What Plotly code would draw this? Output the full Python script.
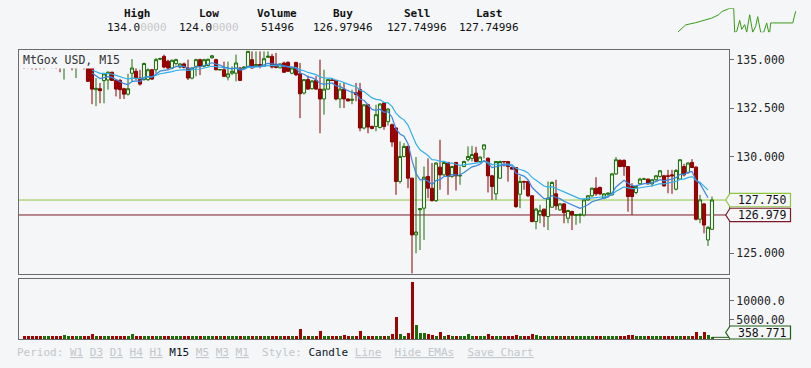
import plotly.graph_objects as go

W, H = 811, 368

# ---------------- data ----------------
opens = [134.66,134.66,134.65,134.66,134.66,134.60,134.65,134.66,134.66,134.66,
         134.60,134.65,134.66,134.58,134.64,134.66,134.66,134.66,133.45,133.50,
         133.92,133.95,134.35,133.93,133.93,133.50,133.22,134.30,134.40,134.05,
         133.97,133.97,134.48,134.48,135.02,135.17,134.92,134.57,134.80,134.62,
         134.78,134.57,134.05,134.66,135.00,134.66,134.70,135.10,135.00,134.47,
         134.48,134.10,134.30,134.30,134.57,134.55,134.62,135.00,134.70,134.75,
         134.66,135.12,135.17,134.75,134.58,134.83,134.86,134.30,134.86,134.27,
         133.28,133.97,133.50,133.93,133.48,132.97,133.48,133.95,133.93,132.97,
         133.48,132.97,132.90,133.30,133.45,131.47,132.67,131.55,131.55,131.50,
         132.76,131.80,131.64,131.47,128.71,130.00,130.52,128.88,125.95,127.25,
         127.33,128.97,128.36,127.72,129.45,129.05,129.69,128.97,129.69,128.99,
         129.48,129.83,129.90,130.17,129.74,130.38,129.91,129.00,128.07,128.88,
         129.74,129.74,129.43,129.43,128.05,128.71,128.71,127.97,126.64,127.00,
         127.28,126.90,127.38,128.07,127.24,127.55,126.81,127.16,126.95,126.97,
         126.98,127.76,127.97,128.36,128.40,127.85,128.05,128.02,129.10,129.80,
         129.80,129.48,128.45,128.14,128.59,128.82,128.83,128.59,128.80,128.97,
         129.00,129.00,129.05,128.31,128.83,129.48,129.17,129.69,129.45,126.76,
         127.55,125.69,126.24]
highs = [134.67,134.67,134.66,134.67,134.67,134.66,134.66,134.67,134.67,134.67,
         134.67,134.66,134.67,134.67,134.66,134.67,134.68,134.68,134.05,133.80,
         134.30,134.40,134.38,133.98,134.00,133.55,134.27,135.03,134.55,134.48,
         134.85,134.55,134.52,135.09,135.10,135.26,135.00,135.00,135.05,134.82,
         134.85,135.00,134.60,135.05,135.05,135.05,135.05,135.25,135.05,134.50,
         134.90,134.90,134.65,135.26,134.60,134.65,135.45,135.43,135.43,135.43,
         135.43,135.43,135.30,135.35,134.80,134.90,134.92,134.62,134.88,134.83,
         134.00,134.18,133.95,134.15,135.00,134.48,134.00,134.00,133.95,133.80,
         133.80,133.00,133.45,133.80,133.80,132.70,132.72,131.60,132.67,132.75,
         132.80,132.50,131.70,131.50,130.78,130.69,130.55,128.90,129.97,127.33,
         129.48,129.90,129.66,129.70,130.86,129.75,129.72,129.52,129.72,129.48,
         129.78,130.52,130.55,130.50,130.00,130.62,129.95,129.05,129.75,129.78,
         129.76,129.76,129.45,129.45,128.97,128.75,128.75,128.00,127.35,127.50,
         127.30,128.71,128.71,128.80,127.60,127.60,127.25,127.20,127.00,127.07,
         127.80,128.00,128.40,128.93,128.45,128.10,128.15,129.15,129.97,129.85,
         129.85,129.50,128.62,128.50,128.90,128.90,128.86,128.82,129.05,129.30,
         129.05,129.31,129.31,129.35,129.86,129.62,129.70,129.86,129.50,128.02,
         127.60,126.40,127.93]
lows = [134.52,134.55,134.50,134.48,134.50,134.50,134.64,134.55,134.52,134.35,
        133.97,134.64,134.45,134.05,134.63,134.50,133.85,132.70,132.60,132.75,
        132.75,133.45,133.90,133.10,132.97,132.97,133.15,133.88,133.95,133.66,
        133.92,133.90,133.95,134.30,134.98,134.55,134.50,134.50,134.70,134.55,
        134.55,133.95,133.98,134.14,134.20,134.60,134.65,135.05,134.45,134.45,
        134.10,133.93,134.20,133.88,133.90,134.50,134.58,134.55,134.65,134.55,
        134.65,135.10,134.55,134.55,134.55,134.32,134.38,134.25,134.15,131.98,
        133.20,133.45,133.45,133.45,131.20,132.16,133.45,133.90,132.90,132.50,
        132.50,132.85,132.70,132.85,131.30,131.40,131.20,131.40,131.30,131.45,
        131.38,131.60,130.50,128.02,128.60,129.95,128.36,123.96,125.00,125.17,
        125.69,127.85,127.67,127.65,128.28,129.00,128.02,128.90,128.24,128.54,
        129.45,129.74,129.74,129.70,129.70,129.90,128.14,127.76,127.76,128.85,
        129.48,128.70,129.30,127.35,127.33,128.28,127.90,126.60,126.24,126.55,
        126.35,126.20,127.35,127.24,127.20,126.55,126.55,126.20,126.47,126.55,
        126.90,127.70,127.90,127.97,128.00,127.80,127.95,127.98,129.05,129.45,
        129.00,127.15,126.98,128.05,128.55,128.80,128.55,128.45,128.70,128.90,
        128.45,128.10,128.07,128.25,128.80,128.97,129.10,129.40,126.70,126.55,
        126.03,125.38,126.20]
closes = [134.64,134.63,134.62,134.62,134.60,134.64,134.66,134.64,134.63,134.60,
          134.65,134.66,134.58,134.64,134.65,134.62,133.88,133.48,133.52,133.40,
          134.27,134.35,133.93,133.48,133.45,133.22,133.50,134.57,134.05,133.74,
          134.80,134.48,134.00,135.00,135.06,134.62,134.57,134.97,135.00,134.78,
          134.60,134.05,134.57,135.00,134.66,135.00,135.02,135.20,134.48,134.49,
          134.14,134.27,134.40,134.83,133.93,134.62,135.43,134.57,134.75,134.65,
          135.05,135.18,134.62,134.60,134.78,134.35,134.40,134.57,134.22,133.24,
          133.97,133.48,133.90,133.48,132.97,133.48,133.97,133.93,132.97,133.48,
          132.97,132.87,132.95,133.20,131.47,132.67,131.52,131.45,132.16,132.71,
          131.55,132.45,130.75,128.71,130.00,130.52,128.88,125.95,126.10,127.30,
          128.93,128.36,127.72,129.66,129.05,129.69,128.97,129.48,129.00,129.02,
          129.74,130.00,130.10,129.74,129.97,130.60,129.00,128.45,129.74,129.74,
          129.73,129.48,129.35,127.41,128.71,128.68,127.97,126.64,127.28,127.20,
          126.93,127.85,128.66,127.45,127.55,127.10,127.21,126.98,127.00,126.99,
          127.76,127.97,128.36,128.07,128.07,128.07,128.10,129.10,129.83,129.48,
          129.48,127.93,127.93,128.45,128.83,128.84,128.59,128.80,129.00,129.26,
          128.48,128.98,129.00,129.28,129.83,129.05,129.66,129.43,126.76,127.76,
          126.46,126.34,127.75]
volumes = [760,780,740,760,790,760,770,750,760,760,
           1000,760,780,760,760,770,790,1250,780,760,
           760,770,760,780,760,760,770,1250,760,770,
           760,780,760,760,770,760,780,760,760,770,
           760,780,760,760,770,760,760,780,760,770,
           760,760,780,770,760,760,780,770,760,760,
           770,760,780,760,760,770,780,760,770,2630,
           790,780,760,770,2100,780,760,770,780,760,
           1080,780,760,770,2100,780,790,770,790,780,
           790,780,1300,5780,1300,790,1580,14900,3680,1500,
           1500,1250,1080,790,1750,790,1080,780,790,780,
           770,1250,780,790,770,760,1250,780,790,780,
           770,760,780,1080,780,760,770,1250,1000,760,
           770,780,760,770,780,760,770,780,760,770,
           780,760,770,780,760,770,780,760,770,780,
           760,1080,1080,780,760,770,780,760,770,780,
           760,770,780,760,770,780,760,770,1750,780,
           1750,1000,358.771]
price_ticks = [125.0, 130.0, 132.5, 135.0]
price_tick_text = ["125.000", "130.000", "132.500", "135.000"]
volume_ticks = [5000, 10000]
volume_tick_text = ["5000.00", "10000.0"]
last_price = 127.750
buy_price = 126.979
last_volume = 358.771
header_labels = ["High", "Low", "Volume", "Buy", "Sell", "Last"]
header_values = ["134.0", "124.0", "51496", "126.97946", "127.74996", "127.74996"]
header_faded = ["0000", "0000", "", "", "", ""]
spark_t = [0, 4, 8, 18, 26, 34, 41, 44, 52, 56, 57, 59, 62, 64, 67, 69, 72, 75, 78,
           80, 83, 86, 89, 91, 92, 93, 95, 115, 118]
spark_v = [124.0, 125.7, 127.1, 128.0, 128.9, 129.9, 131.3, 132.6, 134.0, 134.0,
           124.0, 124.3, 129.0, 125.2, 127.2, 124.0, 131.3, 124.0, 126.5, 130.5,
           124.0, 124.0, 127.9, 124.0, 124.0, 127.9, 127.9, 127.9, 132.8]

# ---------------- helpers ----------------
def px(x):
    return x / W

def py(y):
    return (H - y) / H

P_TOP, P_BOT = 50, 274
V_TOP, V_BOT = 279, 339
X_L, X_R = 19, 729
PRICE_RANGE = [123.93, 135.5]
VOL_RANGE = [-79, 15713]

def price_to_px(p):
    return P_TOP + (PRICE_RANGE[1] - p) / (PRICE_RANGE[1] - PRICE_RANGE[0]) * (P_BOT - P_TOP)

def ema(values, n):
    a = 2.0 / (n + 1)
    out = []
    e = values[0]
    for v in values:
        e = a * v + (1 - a) * e
        out.append(e)
    return out

idx = list(range(len(closes)))
ema_fast = ema(closes, 10)
ema_slow = ema(closes, 21)

BG = "#f4f6f8"
UP = "#1b6e05"
DN_LINE = "#8a0000"
DN_FILL = "#a30000"
MONO = "DejaVu Sans Mono"

fig = go.Figure()

fig.add_trace(go.Candlestick(
    x=idx, open=opens, high=highs, low=lows, close=closes,
    increasing=dict(line=dict(color=UP, width=1), fillcolor=BG),
    decreasing=dict(line=dict(color=DN_LINE, width=1), fillcolor=DN_FILL),
    whiskerwidth=0, showlegend=False, hoverinfo="skip",
    xaxis="x", yaxis="y"))

fig.add_trace(go.Scatter(x=idx[17:172], y=ema_slow[17:172], mode="lines",
                         line=dict(color="#33b0ea", width=1.2), showlegend=False,
                         hoverinfo="skip", xaxis="x", yaxis="y"))
fig.add_trace(go.Scatter(x=idx[17:172], y=ema_fast[17:172], mode="lines",
                         line=dict(color="#3b86de", width=1.2), showlegend=False,
                         hoverinfo="skip", xaxis="x", yaxis="y"))

vol_colors = [UP if c >= o else DN_FILL for o, c in zip(opens, closes)]
fig.add_trace(go.Bar(x=idx, y=volumes, marker=dict(color=vol_colors, line=dict(width=0)),
                     width=0.75, showlegend=False, hoverinfo="skip",
                     xaxis="x2", yaxis="y2"))

fig.add_trace(go.Scatter(x=spark_t, y=spark_v, mode="lines",
                         line=dict(color="#3a9a1a", width=1), showlegend=False,
                         hoverinfo="skip", xaxis="x3", yaxis="y3"))

xr = [-1.25, 176.25]
tickfont = dict(family=MONO, size=11.5, color="#222")
fig.update_layout(
    width=W, height=H, margin=dict(l=0, r=0, t=0, b=0),
    paper_bgcolor=BG, plot_bgcolor=BG, showlegend=False,
    boxgap=0.22, boxgroupgap=0,
    xaxis=dict(domain=[px(X_L), px(X_R)], range=xr, showgrid=False, zeroline=False,
               showticklabels=False, ticks="", showline=True, mirror=True,
               linecolor="#6b6b6b", linewidth=1, rangeslider=dict(visible=False),
               anchor="y", fixedrange=True),
    yaxis=dict(domain=[py(P_BOT), py(P_TOP)], range=PRICE_RANGE, side="right",
               showgrid=False, zeroline=False, tickvals=price_ticks,
               ticktext=price_tick_text, ticks="outside", ticklen=4,
               tickcolor="#6b6b6b", tickfont=tickfont, showline=True, mirror=True,
               linecolor="#6b6b6b", linewidth=1, anchor="x"),
    xaxis2=dict(domain=[px(X_L), px(X_R)], range=xr, showgrid=False, zeroline=False,
                showticklabels=False, ticks="", showline=True, mirror=True,
                linecolor="#6b6b6b", linewidth=1, anchor="y2"),
    yaxis2=dict(domain=[py(V_BOT), py(V_TOP)], range=VOL_RANGE, side="right",
                showgrid=False, zeroline=False, tickvals=volume_ticks,
                ticktext=volume_tick_text, ticks="outside", ticklen=4,
                tickcolor="#6b6b6b", tickfont=tickfont, showline=True, mirror=True,
                linecolor="#6b6b6b", linewidth=1, anchor="x2"),
    xaxis3=dict(domain=[px(677.7), px(797.7)], range=[0, 120], visible=False,
                anchor="y3"),
    yaxis3=dict(domain=[py(32.3), py(8.3)], range=[124, 134], visible=False,
                anchor="x3"),
    bargap=0,
)

shapes = []
for val, col in [(last_price, "#8dc63f"), (buy_price, "#7b1a2a")]:
    shapes.append(dict(type="line", xref="x", yref="y", x0=xr[0], x1=xr[1],
                       y0=val, y1=val, line=dict(color=col, width=1), layer="below"))

def tag(yc, col, top=None, bot=None, tip_y=None):
    h = 6.7
    t = yc - h if top is None else top
    b = yc + h if bot is None else bot
    ty = yc if tip_y is None else tip_y
    xl, xr_, xt = 730.0, 790.5, 725.7
    path = (f"M {px(xt)} {py(ty)} L {px(xl)} {py(t)} L {px(xr_)} {py(t)} "
            f"L {px(xr_)} {py(b)} L {px(xl)} {py(b)} Z")
    return dict(type="path", xref="paper", yref="paper", path=path,
                line=dict(color=col, width=1.2), fillcolor=BG)

y_last = price_to_px(last_price)
y_buy = price_to_px(buy_price)
shapes.append(tag(y_last, "#8dc63f"))
shapes.append(tag(y_buy, "#7b1a2a"))
shapes.append(dict(type="line", xref="x2", yref="y2", x0=idx[-1], x1=xr[1],
                   y0=last_volume, y1=last_volume, line=dict(color="#1d5e12", width=1)))
shapes.append(tag(332.5, "#1d5e12", top=326.0, bot=339.0, tip_y=332.5))
fig.update_layout(shapes=shapes)

ann = []
for yy, val in [(y_last, f"{last_price:.3f}"), (y_buy, f"{buy_price:.3f}"),
                (332.8, f"{last_volume:.3f}")]:
    ann.append(dict(xref="paper", yref="paper", x=px(736), y=py(yy), xanchor="left",
                    yanchor="middle", text=val, showarrow=False,
                    font=dict(family=MONO, size=11.5, color="#111")))
ann.append(dict(xref="paper", yref="paper", x=px(21), y=py(51), xanchor="left",
                yanchor="top", text="MtGox USD, M15", showarrow=False,
                bgcolor=BG, borderpad=1,
                font=dict(family=MONO, size=11.5, color="#333")))
header_x = [137, 209, 277, 343, 417, 489]
for lab, val, fad, hx in zip(header_labels, header_values, header_faded, header_x):
    ann.append(dict(xref="paper", yref="paper", x=px(hx), y=py(14), xanchor="center",
                    yanchor="middle", text=f"<b>{lab}</b>", showarrow=False,
                    font=dict(family=MONO, size=11, color="#111")))
    txt = val + (f"<span style='color:#c8c8c8'>{fad}</span>" if fad else "")
    ann.append(dict(xref="paper", yref="paper", x=px(hx), y=py(27), xanchor="center",
                    yanchor="middle", text=txt, showarrow=False,
                    font=dict(family=MONO, size=11, color="#111")))
g = "#c3c6ca"
def link(s):
    return f"<span style='color:{g}'><u>{s}</u></span>"
def cur(s):
    return f"<span style='color:#0b1626'>{s}</span>"
footer = (f"<span style='color:{g}'>Period:</span> " + " ".join(
    [link("W1"), link("D3"), link("D1"), link("H4"), link("H1"), cur("M15"),
     link("M5"), link("M3"), link("M1")]) +
    f"  <span style='color:{g}'>Style:</span> " + cur("Candle") + " " + link("Line") +
    "  " + link("Hide EMAs") + "  " + link("Save Chart"))
ann.append(dict(xref="paper", yref="paper", x=px(15), y=py(352), xanchor="left",
                yanchor="middle", text=footer, showarrow=False,
                font=dict(family=MONO, size=11, color=g)))
fig.update_layout(annotations=ann)

fig.write_html("out.html",
               config={"displayModeBar": False, "staticPlot": True},
               post_script="document.body.style.margin='0px';"
                           "document.body.style.background='#f4f6f8';")
